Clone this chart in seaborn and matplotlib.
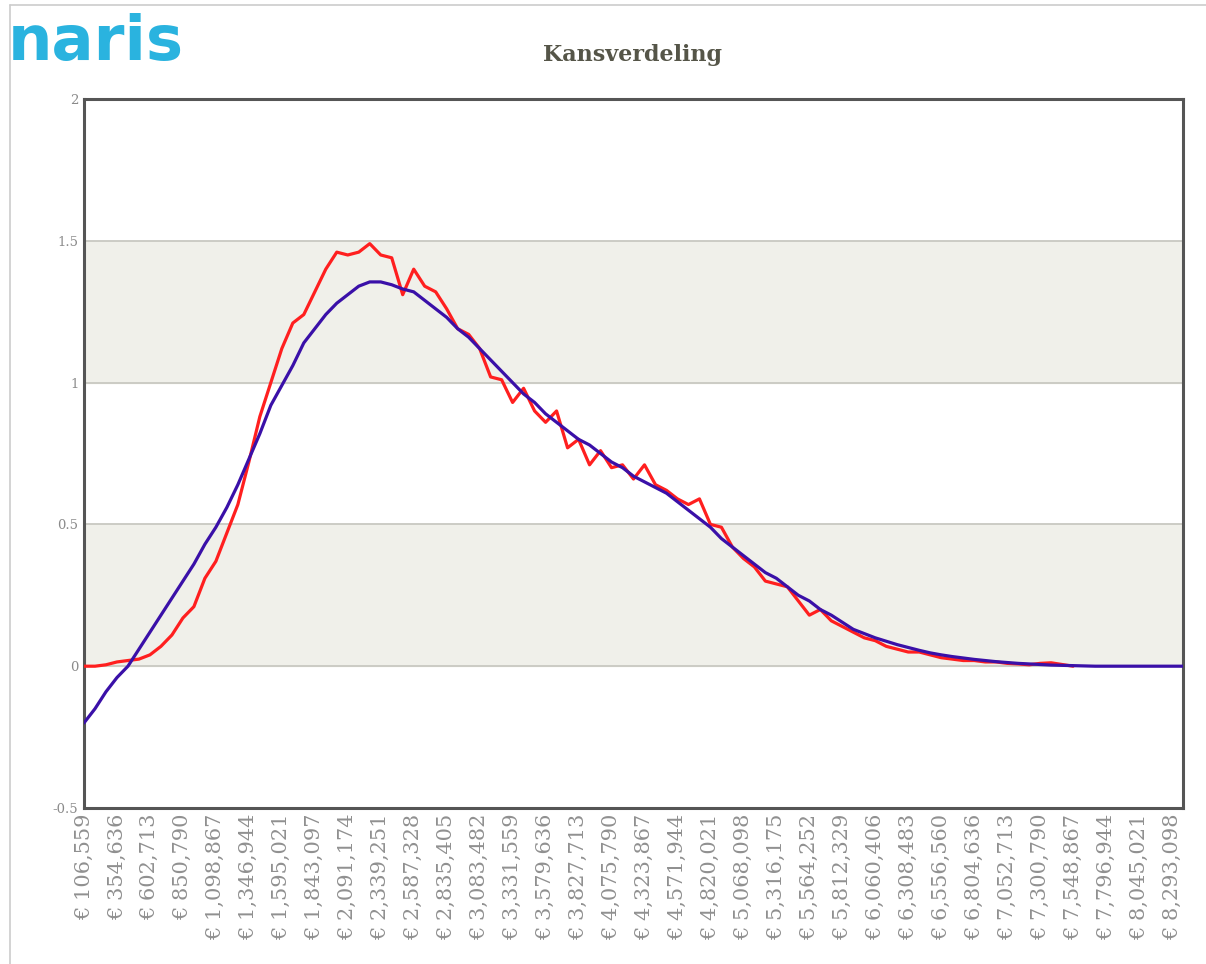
import numpy as np
import pandas as pd
import matplotlib
matplotlib.use('Agg')
import matplotlib.pyplot as plt
from matplotlib.lines import Line2D
import seaborn as sns

# x axis: evenly spaced amounts (euro), one tick label every 3 points
X_START = 106559
X_STEP = 248077 / 3

TICK_LABELS = [
    '106,559', '354,636', '602,713', '850,790', '1,098,867', '1,346,944',
    '1,595,021', '1,843,097', '2,091,174', '2,339,251', '2,587,328', '2,835,405',
    '3,083,482', '3,331,559', '3,579,636', '3,827,713', '4,075,790', '4,323,867',
    '4,571,944', '4,820,021', '5,068,098', '5,316,175', '5,564,252', '5,812,329',
    '6,060,406', '6,308,483', '6,556,560', '6,804,636', '7,052,713', '7,300,790',
    '7,548,867', '7,796,944', '8,045,021', '8,293,098',
]

# empirical distribution (red)
red = [
    0.0, 0.0, 0.005, 0.015, 0.02, 0.025, 0.04, 0.07, 0.11, 0.17,
    0.21, 0.31, 0.37, 0.47, 0.57, 0.72, 0.88, 1.0, 1.12, 1.21,
    1.24, 1.32, 1.40, 1.46, 1.45, 1.46, 1.49, 1.45, 1.44, 1.31,
    1.40, 1.34, 1.32, 1.26, 1.19, 1.17, 1.12, 1.02, 1.01, 0.93,
    0.98, 0.90, 0.86, 0.90, 0.77, 0.80, 0.71, 0.76, 0.70, 0.71,
    0.66, 0.71, 0.64, 0.62, 0.59, 0.57, 0.59, 0.50, 0.49, 0.42,
    0.38, 0.35, 0.30, 0.29, 0.28, 0.23, 0.18, 0.20, 0.16, 0.14,
    0.12, 0.10, 0.09, 0.07, 0.06, 0.05, 0.05, 0.04, 0.03, 0.025,
    0.02, 0.02, 0.015, 0.015, 0.01, 0.008, 0.005, 0.01, 0.012, 0.006,
    0.0,
]

# fitted curve (blue)
blue = [
    -0.20, -0.15, -0.09, -0.04, 0.0, 0.06, 0.12, 0.18, 0.24, 0.30,
    0.36, 0.43, 0.49, 0.56, 0.64, 0.73, 0.82, 0.92, 0.99, 1.06,
    1.14, 1.19, 1.24, 1.28, 1.31, 1.34, 1.355, 1.355, 1.345, 1.33,
    1.32, 1.29, 1.26, 1.23, 1.19, 1.16, 1.12, 1.08, 1.04, 1.00,
    0.96, 0.93, 0.89, 0.86, 0.83, 0.80, 0.78, 0.75, 0.72, 0.70,
    0.67, 0.65, 0.63, 0.61, 0.58, 0.55, 0.52, 0.49, 0.45, 0.42,
    0.39, 0.36, 0.33, 0.31, 0.28, 0.25, 0.23, 0.20, 0.18, 0.155,
    0.13, 0.115, 0.10, 0.088, 0.076, 0.066, 0.056, 0.047, 0.04, 0.034,
    0.029, 0.024, 0.02, 0.016, 0.013, 0.01, 0.008, 0.006, 0.004, 0.003,
    0.002, 0.001, 0.0, 0.0, 0.0, 0.0, 0.0, 0.0, 0.0, 0.0,
    0.0,
]

Y_TICKS = [-0.5, 0, 0.5, 1, 1.5, 2]
Y_TICK_LABELS = ['-0.5', '0', '0.5', '1', '1.5', '2']

x = X_START + X_STEP * np.arange(len(blue))
df = pd.DataFrame({
    'x': x,
    'red': red + [np.nan] * (len(blue) - len(red)),
    'blue': blue,
})
tick_values = [int(s.replace(',', '')) for s in TICK_LABELS]

sns.set_style('white')
fig = plt.figure(figsize=(12.06, 9.64), dpi=100)
ax = fig.add_axes([84 / 1206, 1 - 808 / 964, 1099 / 1206, 709 / 964])

# alternating bands + horizontal grid
ax.axhspan(0, 0.5, color='#f0f0ea', zorder=0)
ax.axhspan(1, 1.5, color='#f0f0ea', zorder=0)
for yv in [0, 0.5, 1, 1.5]:
    ax.axhline(yv, color='#c9c9c2', lw=1.3, zorder=1)

sns.lineplot(data=df, x='x', y='red', ax=ax, color='#ff1f1f', lw=2.3, zorder=3)
sns.lineplot(data=df, x='x', y='blue', ax=ax, color='#3a10a8', lw=2.3, zorder=4)

ax.set_xlim(x[0], x[-1])
ax.set_ylim(-0.5, 2)
ax.set_xticks(tick_values)
ax.set_xticklabels(['€ ' + s for s in TICK_LABELS], rotation=90,
                   family='DejaVu Serif', fontsize=15, color='#909090')
ax.set_yticks(Y_TICKS)
ax.set_yticklabels(Y_TICK_LABELS, family='DejaVu Serif', fontsize=9.5, color='#8a8a8a')
ax.tick_params(axis='both', length=0, pad=4)
ax.set_xlabel('')
ax.set_ylabel('')
for sp in ax.spines.values():
    sp.set_color('#555555')
    sp.set_linewidth(2.2)

fig.text(633 / 1206, 1 - 55 / 964, 'Kansverdeling', ha='center', va='center',
         family='DejaVu Serif', fontweight='bold', fontsize=16, color='#555548')
fig.text(8 / 1206, 1 - 60 / 964, 'naris', ha='left', va='baseline',
         family='DejaVu Sans', fontweight='bold', fontsize=45, color='#2ab3df')

# outer frame of the screenshot
fig.add_artist(Line2D([10 / 1206, 1], [1 - 5 / 964, 1 - 5 / 964],
                      color='#cccccc', lw=1.2))
fig.add_artist(Line2D([10 / 1206, 10 / 1206], [0, 1 - 5 / 964],
                      color='#cccccc', lw=1.2))

fig.savefig('out.png', dpi=100)
